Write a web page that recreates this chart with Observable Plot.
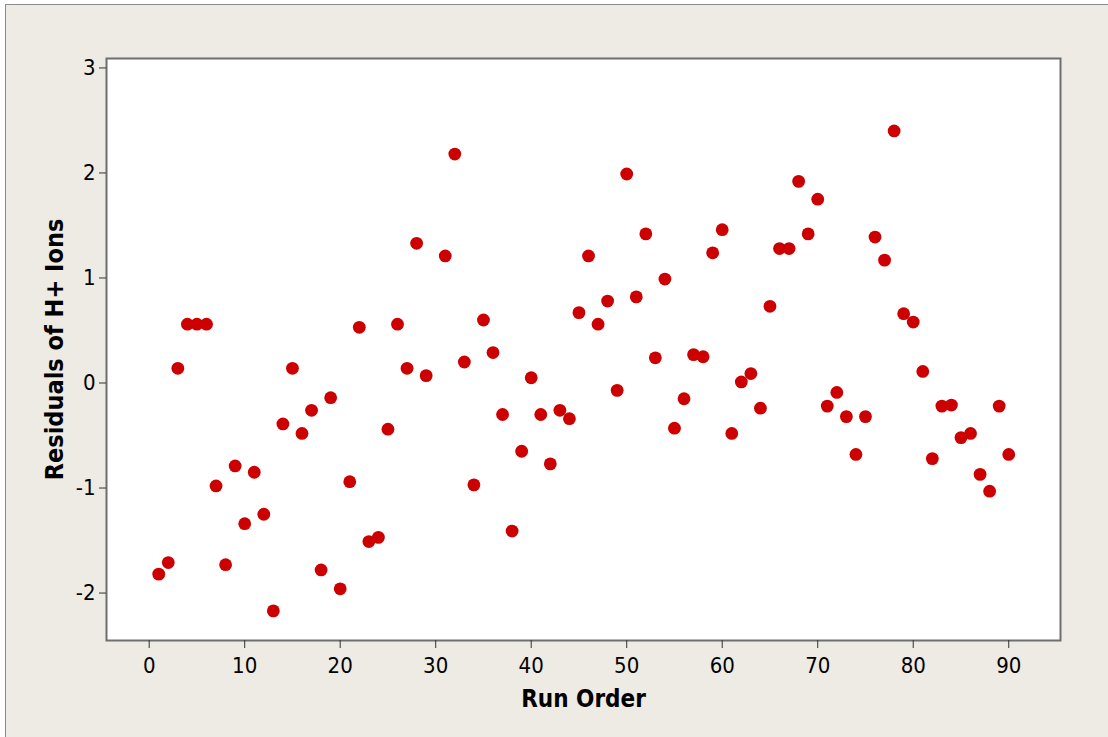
<!DOCTYPE html>
<html>
<head>
<meta charset="utf-8">
<script src="https://cdn.jsdelivr.net/npm/d3@7"></script>
<script src="https://cdn.jsdelivr.net/npm/@observablehq/plot@0.6"></script>
<style>
  html, body { margin: 0; padding: 0; background: #ffffff; }
  #sheet {
    position: absolute; left: 5px; top: 4px; width: 1110px; height: 740px;
    background: #eeeae4; border-left: 1px solid #8a8a8a; border-top: 1px solid #8a8a8a;
  }
  #chart { position: absolute; left: 0; top: 0; }
</style>
</head>
<body>
<div id="sheet"></div>
<div id="chart"></div>
<script>
// Residuals versus run order (run 30 has no residual recorded)
const runOrder = [
  1, 2, 3, 4, 5, 6, 7, 8, 9, 10,
  11, 12, 13, 14, 15, 16, 17, 18, 19, 20,
  21, 22, 23, 24, 25, 26, 27, 28, 29,
  31, 32, 33, 34, 35, 36, 37, 38, 39, 40,
  41, 42, 43, 44, 45, 46, 47, 48, 49, 50,
  51, 52, 53, 54, 55, 56, 57, 58, 59, 60,
  61, 62, 63, 64, 65, 66, 67, 68, 69, 70,
  71, 72, 73, 74, 75, 76, 77, 78, 79, 80,
  81, 82, 83, 84, 85, 86, 87, 88, 89, 90
];
const residuals = [
  -1.82, -1.71, 0.14, 0.56, 0.56, 0.56, -0.98, -1.73, -0.79, -1.34,
  -0.85, -1.25, -2.17, -0.39, 0.14, -0.48, -0.26, -1.78, -0.14, -1.96,
  -0.94, 0.53, -1.51, -1.47, -0.44, 0.56, 0.14, 1.33, 0.07,
  1.21, 2.18, 0.20, -0.97, 0.60, 0.29, -0.30, -1.41, -0.65, 0.05,
  -0.30, -0.77, -0.26, -0.34, 0.67, 1.21, 0.56, 0.78, -0.07, 1.99,
  0.82, 1.42, 0.24, 0.99, -0.43, -0.15, 0.27, 0.25, 1.24, 1.46,
  -0.48, 0.01, 0.09, -0.24, 0.73, 1.28, 1.28, 1.92, 1.42, 1.75,
  -0.22, -0.09, -0.32, -0.68, -0.32, 1.39, 1.17, 2.40, 0.66, 0.58,
  0.11, -0.72, -0.22, -0.21, -0.52, -0.48, -0.87, -1.03, -0.22, -0.68
];
const xTicks = [0, 10, 20, 30, 40, 50, 60, 70, 80, 90];
const yTicks = [-2, -1, 0, 1, 2, 3];
const xLabel = "Run Order";
const yLabel = "Residuals of H+ Ions";

const points = runOrder.map((run, i) => ({run, residual: residuals[i]}));

const font = "'DejaVu Sans Condensed', 'DejaVu Sans', sans-serif";
const plainNumber = d => String(d);

const chart = Plot.plot({
  width: 1108,
  height: 737,
  marginLeft: 106,
  marginRight: 48,
  marginTop: 58,
  marginBottom: 97,
  style: {background: "transparent", fontFamily: font, fontSize: "22px", color: "#000", fontStretch: "condensed"},
  x: {domain: [-4.47, 95.42]},
  y: {domain: [-2.452, 3.09]},
  marks: [
    Plot.frame({fill: "white"}),
    Plot.dot(points, {x: "run", y: "residual", r: 6.4, fill: "#cc0000", stroke: "none"}),
    Plot.frame({stroke: "#6e6e6e", strokeWidth: 2}),
    Plot.axisX(xTicks, {tickSize: 8, tickPadding: 9, fontSize: 22, stroke: "#333", tickFormat: plainNumber, label: null}),
    Plot.axisY(yTicks, {tickSize: 7, tickPadding: 4, fontSize: 22, stroke: "#333", tickFormat: plainNumber, label: null}),
    Plot.text([xLabel], {text: d => d, frameAnchor: "bottom", textAnchor: "middle", lineAnchor: "bottom",
      dy: 66, fontSize: 24, fontWeight: "bold"}),
    Plot.text([yLabel], {text: d => d, frameAnchor: "left", textAnchor: "middle", lineAnchor: "bottom",
      rotate: -90, dx: -44, fontSize: 25, fontWeight: "bold"})
  ]
});

document.getElementById("chart").appendChild(chart);
</script>
</body>
</html>
